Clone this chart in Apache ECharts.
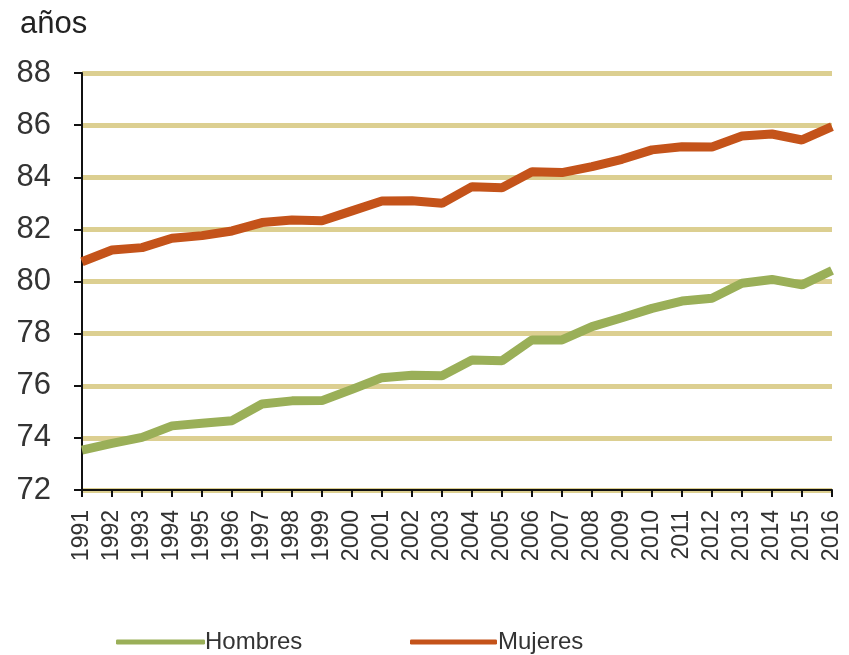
<!DOCTYPE html>
<html>
<head>
<meta charset="utf-8">
<script src="https://cdn.jsdelivr.net/npm/echarts@6/dist/echarts.min.js"></script>
<style>
html,body{margin:0;padding:0;background:#fff;}
#c{width:849px;height:655px;}
</style>
</head>
<body>
<div id="c"></div>
<script>
const years = ['1991','1992','1993','1994','1995','1996','1997','1998','1999','2000','2001','2002','2003','2004','2005','2006','2007','2008','2009','2010','2011','2012','2013','2014','2015','2016'];
const hombres = [73.53,73.79,74.02,74.46,74.56,74.66,75.30,75.42,75.43,75.86,76.31,76.40,76.38,76.99,76.96,77.76,77.76,78.27,78.61,78.97,79.25,79.36,79.93,80.08,79.87,80.42];
const mujeres = [80.76,81.21,81.30,81.66,81.76,81.94,82.26,82.36,82.33,82.71,83.09,83.10,83.00,83.64,83.60,84.21,84.18,84.41,84.69,85.05,85.17,85.16,85.58,85.66,85.43,85.94];
const yTicks = {min:72, max:88, interval:2};

const chart = echarts.init(document.getElementById('c'));
const font = 'Liberation Sans, Arial, sans-serif';
chart.setOption({
  animation:false,
  backgroundColor:'#ffffff',
  title:{text:'años', left:15, top:4, textStyle:{fontFamily:font, fontSize:31, fontWeight:'normal', color:'#222'}},
  grid:{left:82, right:17, top:73, bottom:165},
  legend:[
    {data:['Hombres'], left:111, top:625, itemWidth:89, itemHeight:5, itemGap:2, icon:'roundRect',
     textStyle:{fontFamily:font, fontSize:24, color:'#333', padding:[0,0,0,-5]}},
    {data:['Mujeres'], left:405, top:625, itemWidth:87, itemHeight:5, itemGap:2, icon:'roundRect',
     textStyle:{fontFamily:font, fontSize:24, color:'#333', padding:[0,0,0,-4]}}
  ],
  xAxis:{
    type:'category', data:years, boundaryGap:false,
    axisLine:{lineStyle:{color:'#111', width:2}},
    axisTick:{show:true, alignWithLabel:true, interval:0, length:7, lineStyle:{color:'#111', width:2}},
    axisLabel:{interval:0, rotate:90, margin:20, color:'#333', fontFamily:font, fontSize:23},
    splitLine:{show:false}
  },
  yAxis:{
    type:'value', min:yTicks.min, max:yTicks.max, interval:yTicks.interval,
    axisLine:{show:true, lineStyle:{color:'#111', width:2}},
    axisTick:{show:true, length:8, lineStyle:{color:'#111', width:2}},
    axisLabel:{margin:31, fontFamily:font, fontSize:31, color:'#333'},
    splitLine:{show:true, lineStyle:{color:'#DCCF91', width:5}}
  },
  series:[
    {name:'Hombres', type:'line', data:hombres, showSymbol:false, symbol:'none',
     lineStyle:{color:'#9AAF58', width:9}, itemStyle:{color:'#9AAF58'}, z:3},
    {name:'Mujeres', type:'line', data:mujeres, showSymbol:false, symbol:'none',
     lineStyle:{color:'#C4531A', width:9}, itemStyle:{color:'#C4531A'}, z:3}
  ]
});
</script>
</body>
</html>
